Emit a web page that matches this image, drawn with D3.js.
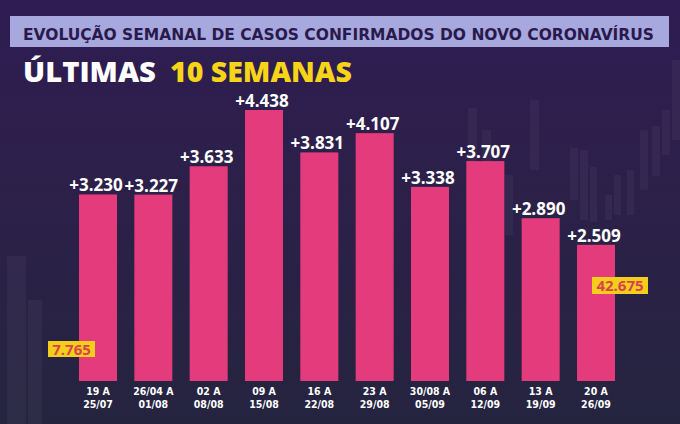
<!DOCTYPE html>
<html><head><meta charset="utf-8">
<script src="https://cdn.jsdelivr.net/npm/d3@7"></script>
<style>
html,body{margin:0;padding:0;background:#2a2048;}
svg{display:block;}
</style></head>
<body>
<svg id="chart" width="680" height="424"></svg>
<script>
// ---- data ----
const weeksLine1 = ["19 A","26/04 A","02 A","09 A","16 A","23 A","30/08 A","06 A","13 A","20 A"];
const weeksLine2 = ["25/07","01/08","08/08","15/08","22/08","29/08","05/09","12/09","19/09","26/09"];
const weeklyCases = [3230,3227,3633,4438,3831,4107,3338,3707,2890,2509];
const totalBefore = [7765];
const totalAfter = [42675];
const titleBanner = "EVOLUÇÃO SEMANAL DE CASOS CONFIRMADOS DO NOVO CORONAVÍRUS";
const titleWhite = "ÚLTIMAS";
const titleYellow = "10 SEMANAS";

const svg = d3.select("#chart");
const W = 680, H = 424;

// background
const defs = svg.append("defs");
const g1 = defs.append("linearGradient").attr("id","bg").attr("x1",0).attr("y1",0).attr("x2",0).attr("y2",1);
g1.append("stop").attr("offset","0%").attr("stop-color","#2f1c52");
g1.append("stop").attr("offset","45%").attr("stop-color","#2c2049");
g1.append("stop").attr("offset","100%").attr("stop-color","#25243f");
svg.append("rect").attr("width",W).attr("height",H).attr("fill","url(#bg)");

// faint decorative candlesticks (background ornament)
const deco = svg.append("g").attr("fill","#ffffff").attr("opacity",0.035);
[[7,256,19,170],[28,300,14,130],[468,108,9,60],[482,130,9,50],[505,175,8,60],[530,100,9,70],
 [570,148,8,52],[580,150,8,70],[590,167,7,55],[605,195,7,25],[614,175,7,40],[627,170,7,45],
 [640,130,8,60],[652,126,8,50],[662,110,8,45],[672,60,8,80]]
 .forEach(d => deco.append("rect").attr("x",d[0]).attr("y",d[1]).attr("width",d[2]).attr("height",d[3]));

// banner
svg.append("rect").attr("x",10).attr("y",16).attr("width",659).attr("height",31).attr("fill","#a7a8de");
svg.append("text").attr("x",23).attr("y",39.5)
  .attr("textLength",631).attr("lengthAdjust","spacingAndGlyphs")
  .style("font-family","'DejaVu Sans Condensed','DejaVu Sans',sans-serif")
  .style("font-stretch","condensed").style("font-weight","bold").style("font-size","16.5px")
  .attr("fill","#2a1a4c").text(titleBanner);

// big title
svg.append("text").attr("x",23).attr("y",82).attr("textLength",133).attr("lengthAdjust","spacingAndGlyphs")
  .style("font-family","'Open Sans',sans-serif").style("font-weight",800).style("font-size","28px")
  .attr("fill","#ffffff").text(titleWhite);
svg.append("text").attr("x",170).attr("y",82).attr("textLength",182).attr("lengthAdjust","spacingAndGlyphs")
  .style("font-family","'Open Sans',sans-serif").style("font-weight",800).style("font-size","28px")
  .attr("fill","#f7d417").text(titleYellow);

// scales
const x = d3.scaleBand().domain(weeksLine1.map((d,i)=>i)).range([79,615]).paddingInner(0.313).paddingOuter(0);
const y = d3.scaleLinear().domain([560, 4438]).range([381, 110]);
const loc = d3.formatLocale({decimal:",", thousands:".", grouping:[3], currency:["R$",""]});
const fmtPlus = loc.format("+,");
const fmt = loc.format(",");

// bars
svg.append("g").selectAll("rect").data(weeklyCases).join("rect")
  .attr("x",(d,i)=>x(i)).attr("width",x.bandwidth())
  .attr("y",d=>y(d)).attr("height",d=>y(560)-y(d))
  .attr("fill","#e33b7b");

// value labels
svg.append("g").selectAll("text").data(weeklyCases).join("text")
  .attr("x",(d,i)=>x(i)+x.bandwidth()/2-2).attr("y",d=>y(d)-3)
  .attr("text-anchor","middle")
  .style("font-family","'Open Sans',sans-serif").style("font-weight",700).style("font-size","17px")
  .attr("fill","#ffffff").text(d=>fmtPlus(d));

// category labels
const cat = svg.append("g")
  .style("font-family","'DejaVu Sans Condensed','DejaVu Sans',sans-serif")
  .style("font-stretch","condensed").style("font-weight","bold").style("font-size","10.5px")
  .attr("fill","#ffffff").attr("text-anchor","middle");
cat.selectAll("text.l1").data(weeksLine1).join("text").attr("class","l1")
  .attr("x",(d,i)=>x(i)+x.bandwidth()/2).attr("y",395).text(d=>d);
cat.selectAll("text.l2").data(weeksLine2).join("text").attr("class","l2")
  .attr("x",(d,i)=>x(i)+x.bandwidth()/2).attr("y",408).text(d=>d);

// total boxes
function box(cx, cy, w, h, val){
  svg.append("rect").attr("x",cx-w/2).attr("y",cy-h/2).attr("width",w).attr("height",h).attr("fill","#f3cf1c");
  svg.append("text").attr("x",cx).attr("y",cy+5.5).attr("text-anchor","middle")
    .style("font-family","'Open Sans',sans-serif").style("font-weight",700).style("font-size","15px")
    .attr("fill","#d9434d").text(fmt(val));
}
box(71.5, 349, 47, 16, totalBefore[0]);
box(620, 285.5, 56, 17, totalAfter[0]);
</script>
</body></html>
